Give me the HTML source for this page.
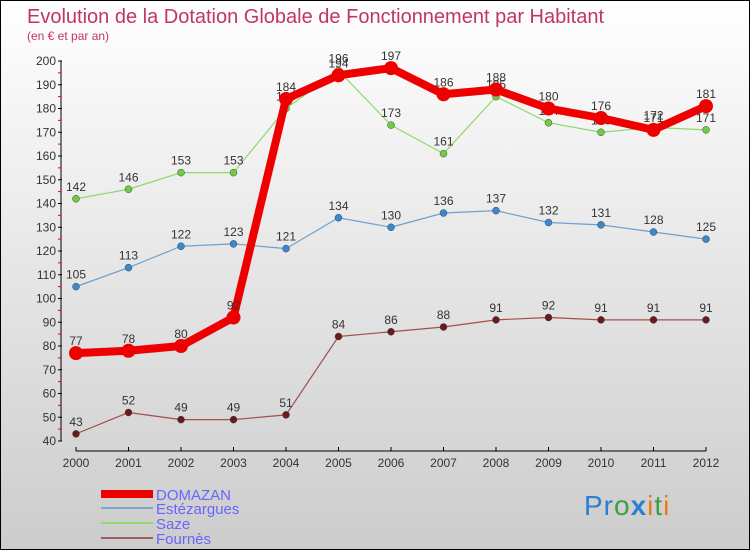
<!DOCTYPE html>
<html><head><meta charset="utf-8"><style>
body{margin:0;}
#c{width:750px;height:550px;position:relative;box-sizing:border-box;border:1px solid #000;background:linear-gradient(#ffffff,#cccccc);font-family:"Liberation Sans",sans-serif;overflow:hidden}
</style></head><body>
<div id="c">
<svg id="s" width="748" height="548" style="position:absolute;left:0;top:0">
<text x="26" y="22" font-size="20" fill="#c0365e">Evolution de la Dotation Globale de Fonctionnement par Habitant</text>
<text x="26" y="39" font-size="12" fill="#c0365e">(en € et par an)</text>
<g id="ax"></g><g id="pl"></g>
<g>
<rect x="100" y="489" width="52" height="8" fill="#e00"/>
<text x="155" y="499" font-size="15" fill="#6666ff">DOMAZAN</text>
<line x1="100" x2="152" y1="507" y2="507" stroke="#7aa8d0" stroke-width="2"/>
<text x="155" y="513" font-size="15" fill="#6666ff">Estézargues</text>
<line x1="100" x2="152" y1="522" y2="522" stroke="#90d870" stroke-width="2"/>
<text x="155" y="528" font-size="15" fill="#6666ff">Saze</text>
<line x1="100" x2="152" y1="537" y2="537" stroke="#a06060" stroke-width="2"/>
<text x="155" y="543" font-size="15" fill="#6666ff">Fournès</text>
</g>
<text x="583" y="514" font-size="28" font-family="Liberation Sans,sans-serif" letter-spacing="1"><tspan fill="#2a7fd0">Pr</tspan><tspan fill="#3aa040">o</tspan><tspan fill="#2a7fd0" font-weight="bold">x</tspan><tspan fill="#f07a10">i</tspan><tspan fill="#3aa040">t</tspan><tspan fill="#f07a10">i</tspan></text>
</svg></div>
<script>
const years=[2000,2001,2002,2003,2004,2005,2006,2007,2008,2009,2010,2011,2012];
const yTicks=[40,50,60,70,80,90,100,110,120,130,140,150,160,170,180,190,200];
const domazan=[77,78,80,92,184,194,197,186,188,180,176,171,181];
const estezargues=[105,113,122,123,121,134,130,136,137,132,131,128,125];
const saze=[142,146,153,153,180,196,173,161,185,174,170,172,171];
const fournes=[43,52,49,49,51,84,86,88,91,92,91,91,91];
const NS="http://www.w3.org/2000/svg";
const X=i=>75+i*52.5, Y=v=>440-(v-40)*2.375;
function mk(t,a,p){const e=document.createElementNS(NS,t);for(const k in a)e.setAttribute(k,a[k]);p.appendChild(e);return e;}
const ax=document.getElementById('ax'),pl=document.getElementById('pl');
let l=mk('line',{x1:60,x2:60,y1:Y(200),y2:Y(40),stroke:'#000'},ax);


yTicks.forEach((v,k)=>{mk('line',{x1:57,x2:61,y1:Y(v),y2:Y(v),stroke:'#000'},ax);
 if(k<yTicks.length-1) mk('line',{x1:57,x2:60,y1:Y(v)-11.9,y2:Y(v)-11.9,stroke:'#e00'},ax);
 const t=mk('text',{x:55,y:Y(v)+4,'font-size':12,'text-anchor':'end',fill:'#333'},ax);t.textContent=v;
 
 });
l=mk('line',{x1:75,x2:705,y1:450,y2:450,stroke:'#000'},ax);


years.forEach((y,i)=>{mk('line',{x1:X(i),x2:X(i),y1:446,y2:450,stroke:'#000'},ax);
 const t=mk('text',{x:X(i),y:466,'font-size':12,'text-anchor':'middle',fill:'#333'},ax);t.textContent=y;
 
 });
function series(d,col,w,r,dot,name){
 const g=mk('g',{},pl);
 
 
 mk('polyline',{points:d.map((v,i)=>X(i)+','+Y(v)).join(' '),fill:'none',stroke:col,'stroke-width':w,'stroke-linejoin':'round'},g);
 d.forEach((v,i)=>{const c=mk('circle',{cx:X(i),cy:Y(v),r:r,fill:dot,stroke:w>3?'none':'#444','stroke-width':0.5},g);
  
  
  const t=mk('text',{x:X(i),y:Y(v)-8,'font-size':12,'text-anchor':'middle',fill:'#333'},g);t.textContent=v;
  
  });
}
series(fournes,'#a05050',1.2,3.5,'#6a1a1a','fournes');
series(estezargues,'#6fa0d0',1.2,3.5,'#3a88d0','estezargues');
series(saze,'#90d870',1.2,3.5,'#70cc40','saze');
series(domazan,'#ee0000',8,7,'#ee0000','domazan');
</script>
</body></html>
